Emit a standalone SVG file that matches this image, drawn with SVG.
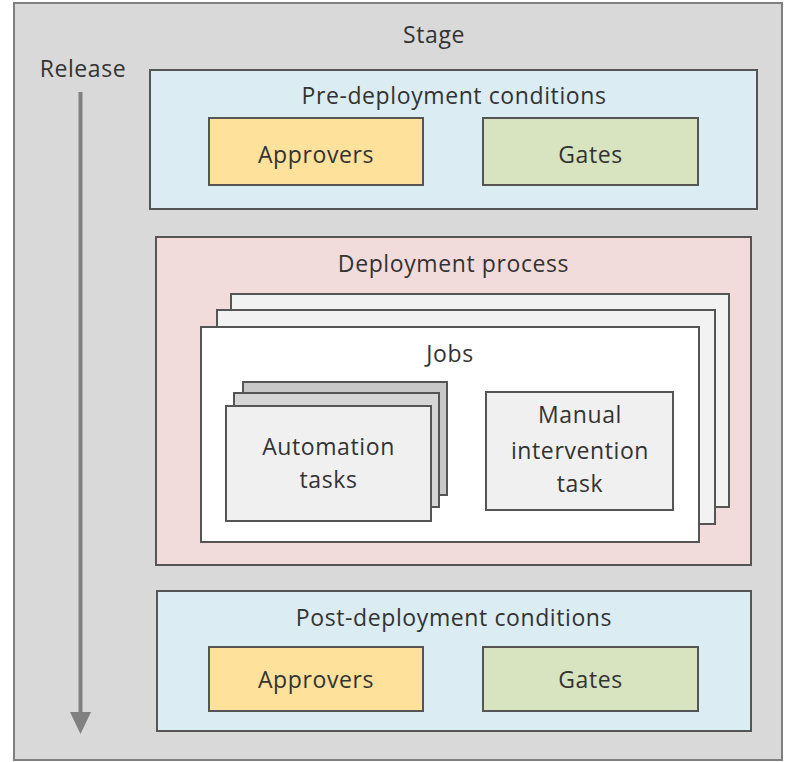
<svg xmlns="http://www.w3.org/2000/svg" width="786" height="762" viewBox="0 0 786 762">
<style>
text{font-family:"Open Sans","Noto Sans","DejaVu Sans",sans-serif;font-size:23px;letter-spacing:0.6px;fill:#333;text-anchor:middle}
.box{stroke:#555;stroke-width:2}
.ctr{fill:#dbecf3}
.app{fill:#fee19b}
.gate{fill:#d8e4c0}
</style>
<g id="stage">
<rect x="14" y="3" width="768" height="757" fill="#d9d9d9" stroke="#7f7f7f" stroke-width="2"/>
<text x="434" y="43">Stage</text>
</g>
<g id="connectors">
<line x1="80.5" y1="92" x2="80.5" y2="714" stroke="#808080" stroke-width="4"/>
<polygon points="70,712 91,712 80.5,734" fill="#808080"/>
<text x="83" y="77">Release</text>
</g>
<g id="pre">
<rect class="box ctr" x="150" y="70" width="607" height="139"/>
<text x="454" y="104">Pre-deployment conditions</text>
</g>
<g id="pre-approvers">
<rect class="box app" x="209" y="118" width="214" height="67"/>
<text x="316" y="163">Approvers</text>
</g>
<g id="pre-gates">
<rect class="box gate" x="483" y="118" width="215" height="67"/>
<text x="590.5" y="163">Gates</text>
</g>
<g id="deploy">
<rect class="box" x="156" y="237" width="595" height="328" fill="#f2dcdb"/>
<text x="453.5" y="272">Deployment process</text>
</g>
<g id="jobs">
<rect class="box" x="231" y="294" width="498" height="213" fill="#f2f2f2"/>
<rect class="box" x="217" y="310" width="498" height="214" fill="#f2f2f2"/>
<rect class="box" x="201" y="327" width="498" height="215" fill="#ffffff"/>
<text x="450" y="362">Jobs</text>
</g>
<g id="automation">
<rect class="box" x="243" y="382" width="204" height="113" fill="#c8c8c8"/>
<rect class="box" x="234" y="393" width="205" height="114" fill="#d6d6d6"/>
<rect class="box" x="226" y="406" width="205" height="115" fill="#f0f0f0"/>
<text x="328.5" y="455">Automation</text>
<text x="328.5" y="488">tasks</text>
</g>
<g id="manual">
<rect class="box" x="486" y="392" width="187" height="118" fill="#f0f0f0"/>
<text x="580" y="423">Manual</text>
<text x="580" y="459">intervention</text>
<text x="580" y="492">task</text>
</g>
<g id="post">
<rect class="box ctr" x="157" y="591" width="594" height="140"/>
<text x="454" y="626">Post-deployment conditions</text>
</g>
<g id="post-approvers">
<rect class="box app" x="209" y="647" width="214" height="64"/>
<text x="316" y="688">Approvers</text>
</g>
<g id="post-gates">
<rect class="box gate" x="483" y="647" width="215" height="64"/>
<text x="590.5" y="688">Gates</text>
</g>
</svg>
